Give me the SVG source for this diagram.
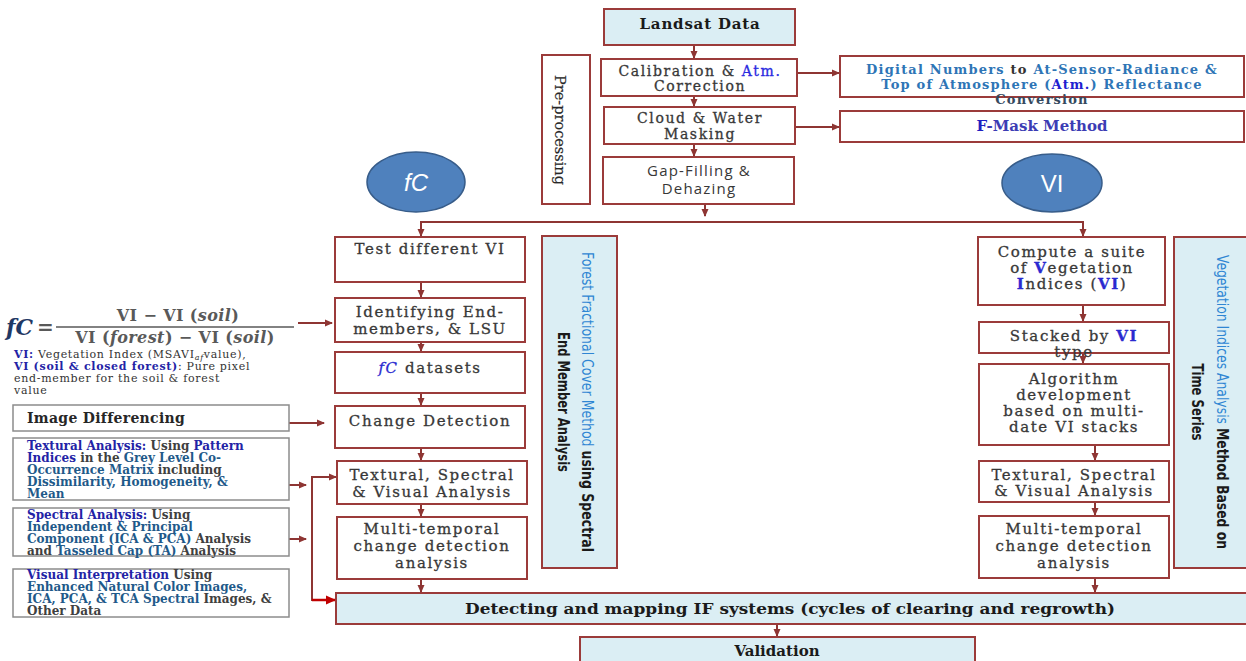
<svg xmlns="http://www.w3.org/2000/svg" width="1246" height="661" viewBox="0 0 1246 661">
<defs>
<style>
.box{fill:#fff;stroke:#9b3b3a;stroke-width:2}
.bbox{fill:#dbeef4;stroke:#9b3b3a;stroke-width:2}
.gbox{fill:#fff;stroke:#8c8c8c;stroke-width:1.5}
.conn{stroke:#8e3533;stroke-width:2;fill:none}
.t{font-family:"DejaVu Serif",serif;font-size:15px;fill:#383838;stroke:#383838;stroke-width:0.3px;letter-spacing:1.6px;text-anchor:middle}
.tt{font-size:14px;letter-spacing:1.6px}
.s{font-family:"DejaVu Serif",serif;font-size:12px;font-weight:bold;fill:#404040}
.n{font-family:"DejaVu Serif",serif;font-size:11px;fill:#333;letter-spacing:0.7px}
.bl{fill:#2323a6;font-weight:bold}
.tl{fill:#1f5a8a}
.vb{fill:#2f86d3}
.vk{fill:#1a1a1a;font-weight:bold}
.side{font-family:"Liberation Sans Narrow","DejaVu Sans Condensed",sans-serif;font-size:16px;text-anchor:middle}
.circ{fill:#4f81bd;stroke:#385d8a;stroke-width:1.5}
.ct{font-family:"Liberation Sans",sans-serif;font-size:24px;fill:#fff;text-anchor:middle}
.dn{font-family:"DejaVu Serif",serif;font-size:13px;font-weight:bold;letter-spacing:1.2px;text-anchor:middle;fill:#2e75b6}
</style>
<marker id="ah" markerWidth="8" markerHeight="8" refX="7" refY="4" orient="auto" markerUnits="userSpaceOnUse">
<path d="M0,0.5 L8,4 L0,7.5 z" fill="#8e3533"/>
</marker>
<marker id="ahr" markerWidth="10" markerHeight="10" refX="9" refY="5" orient="auto" markerUnits="userSpaceOnUse">
<path d="M0,0.5 L10,5 L0,9.5 z" fill="#c00000"/>
</marker>
</defs>

<g id="connectors">
<line class="conn" x1="694" y1="45" x2="694" y2="58" marker-end="url(#ah)"/>
<line class="conn" x1="694" y1="96" x2="694" y2="106" marker-end="url(#ah)"/>
<line class="conn" x1="694" y1="144" x2="694" y2="156" marker-end="url(#ah)"/>
<line class="conn" x1="705" y1="204" x2="705" y2="216" marker-end="url(#ah)"/>
<polyline class="conn" points="421,236 421,222 1083,222 1083,236"/>
<line class="conn" x1="421" y1="224" x2="421" y2="236" marker-end="url(#ah)"/>
<line class="conn" x1="1083" y1="224" x2="1083" y2="236" marker-end="url(#ah)"/>
<line class="conn" x1="797" y1="73" x2="839" y2="73" marker-end="url(#ah)"/>
<line class="conn" x1="795" y1="127" x2="839" y2="127" marker-end="url(#ah)"/>
<line class="conn" x1="421" y1="282" x2="421" y2="297" marker-end="url(#ah)"/>
<line class="conn" x1="421" y1="342" x2="421" y2="351" marker-end="url(#ah)"/>
<line class="conn" x1="421" y1="393" x2="421" y2="405" marker-end="url(#ah)"/>
<line class="conn" x1="421" y1="448" x2="421" y2="460" marker-end="url(#ah)"/>
<line class="conn" x1="421" y1="504" x2="421" y2="516" marker-end="url(#ah)"/>
<line class="conn" x1="421" y1="579" x2="421" y2="592" marker-end="url(#ah)"/>
<line class="conn" x1="1083" y1="305" x2="1083" y2="321" marker-end="url(#ah)"/>
<line class="conn" x1="1083" y1="353" x2="1083" y2="363" marker-end="url(#ah)"/>
<line class="conn" x1="1095" y1="445" x2="1095" y2="460" marker-end="url(#ah)"/>
<line class="conn" x1="1095" y1="502" x2="1095" y2="515" marker-end="url(#ah)"/>
<line class="conn" x1="1095" y1="578" x2="1095" y2="592" marker-end="url(#ah)"/>
<line class="conn" x1="777" y1="624" x2="777" y2="636" marker-end="url(#ah)"/>
<line class="conn" x1="298" y1="323" x2="332" y2="323" marker-end="url(#ah)"/>
<line class="conn" x1="289" y1="423" x2="324" y2="423" marker-end="url(#ah)"/>
<line class="conn" x1="289" y1="485" x2="306" y2="485" marker-end="url(#ah)"/>
<line class="conn" x1="289" y1="539" x2="306" y2="539" marker-end="url(#ah)"/>
<polyline class="conn" points="336,477 312,477 312,600 320,600"/>
<line class="conn" x1="312" y1="477" x2="336" y2="477" marker-end="url(#ah)"/>
<line x1="312" y1="600" x2="335" y2="600" stroke="#c00000" stroke-width="2.5" marker-end="url(#ahr)"/>
</g>

<g id="landsat"><rect class="bbox" x="604" y="9" width="191" height="36"/>
<text class="t" x="700" y="29" style="font-weight:bold;fill:#1a1a1a;stroke:none;letter-spacing:0.8px;font-size:15px">Landsat Data</text></g>

<g id="preprocessing"><rect class="box" x="542" y="55" width="48" height="149"/>
<text class="t" transform="translate(560,130) rotate(90)" x="0" y="5" style="letter-spacing:0;font-size:14.5px;fill:#262626;stroke-width:0.2px">Pre-processing</text></g>

<g id="calibration"><rect class="box" x="601" y="59" width="196" height="37"/>
<text class="t tt" x="700" y="76">Calibration &amp; <tspan fill="#2a2ae0" stroke="#2a2ae0">Atm.</tspan></text>
<text class="t tt" x="700" y="91">Correction</text></g>

<g id="cloud"><rect class="box" x="604" y="107" width="191" height="37"/>
<text class="t tt" x="700" y="123">Cloud &amp; Water</text>
<text class="t tt" x="700" y="139">Masking</text></g>

<g id="gapfilling"><rect class="box" x="603" y="157" width="191" height="47"/>
<text class="t" x="699" y="176" style="font-family:'Open Sans',sans-serif;font-size:15px;letter-spacing:1.2px;stroke:none">Gap-Filling &amp;</text>
<text class="t" x="699" y="194" style="font-family:'Open Sans',sans-serif;font-size:15px;letter-spacing:1.2px;stroke:none">Dehazing</text></g>

<g id="digital"><rect class="box" x="840" y="56" width="404" height="41"/>
<text class="dn" x="1042" y="74">Digital Numbers <tspan fill="#333">to</tspan> At-Sensor-Radiance &amp;</text>
<text class="dn" x="1042" y="89">Top of Atmosphere (<tspan fill="#2020d0">Atm.</tspan>) Reflectance</text>
<text class="dn" x="1042" y="104" style="fill:#34495e">Conversion</text></g>

<g id="fmask"><rect class="box" x="840" y="111" width="404" height="31"/>
<text x="1042" y="131" style="font-family:'DejaVu Serif',serif;font-size:15px;font-weight:bold;text-anchor:middle;fill:#3c3cb4"><tspan fill="#2020c0">F</tspan>-Mask Method</text></g>

<g id="fc-circle"><ellipse class="circ" cx="416" cy="182" rx="49" ry="30"/>
<text class="ct" x="416" y="191" style="font-style:italic">fC</text></g>

<g id="vi-circle"><ellipse class="circ" cx="1052" cy="183" rx="50" ry="29"/>
<text class="ct" x="1052" y="192">VI</text></g>

<g id="test"><rect class="box" x="335" y="237" width="190" height="45"/>
<text class="t" x="430" y="254">Test different VI</text></g>

<g id="identifying"><rect class="box" x="335" y="298" width="190" height="44"/>
<text class="t" x="430" y="317">Identifying End-</text>
<text class="t" x="430" y="334">members, &amp; LSU</text></g>

<g id="fcdatasets"><rect class="box" x="335" y="352" width="190" height="41"/>
<text class="t" x="430" y="373"><tspan fill="#2a2ad0" stroke="#2a2ad0" font-style="italic">fC</tspan> datasets</text></g>

<g id="change"><rect class="box" x="335" y="406" width="190" height="42"/>
<text class="t" x="430" y="426">Change Detection</text></g>

<g id="textural-c"><rect class="box" x="337" y="461" width="190" height="43"/>
<text class="t" x="432" y="480">Textural, Spectral</text>
<text class="t" x="432" y="497">&amp; Visual Analysis</text></g>

<g id="multi-c"><rect class="box" x="337" y="517" width="190" height="62"/>
<text class="t" x="432" y="534">Multi-temporal</text>
<text class="t" x="432" y="551">change detection</text>
<text class="t" x="432" y="568">analysis</text></g>

<g id="forest-method"><rect class="bbox" x="542" y="236" width="75" height="332"/>
<g transform="translate(579,402) rotate(90)">
<text class="side" x="0" y="-3" textLength="300" lengthAdjust="spacingAndGlyphs"><tspan class="vb">Forest Fractional Cover Method</tspan> <tspan class="vk">using Spectral</tspan></text>
<text class="side vk" x="0" y="21" textLength="140" lengthAdjust="spacingAndGlyphs">End Member Analysis</text>
</g></g>

<g id="compute"><rect class="box" x="978" y="237" width="187" height="68"/>
<text class="t" x="1072" y="257">Compute a suite</text>
<text class="t" x="1072" y="273">of <tspan fill="#2a2ad0" stroke="#2a2ad0" font-weight="bold">V</tspan>egetation</text>
<text class="t" x="1072" y="289"><tspan fill="#2a2ad0" stroke="#2a2ad0" font-weight="bold">I</tspan>ndices (<tspan fill="#2a2ad0" stroke="#2a2ad0" font-weight="bold">VI</tspan>)</text></g>

<g id="stacked"><rect class="box" x="979" y="322" width="190" height="31"/>
<text class="t" x="1074" y="341">Stacked by <tspan fill="#2a2ad0" stroke="#2a2ad0" font-weight="bold">VI</tspan></text>
<text class="t" x="1074" y="357">type</text></g>

<g id="algorithm"><rect class="box" x="979" y="364" width="190" height="81"/>
<text class="t" x="1074" y="384">Algorithm</text>
<text class="t" x="1074" y="400">development</text>
<text class="t" x="1074" y="416">based on multi-</text>
<text class="t" x="1074" y="432">date VI stacks</text></g>

<g id="textural-r"><rect class="box" x="979" y="461" width="190" height="41"/>
<text class="t" x="1074" y="480">Textural, Spectral</text>
<text class="t" x="1074" y="496">&amp; Visual Analysis</text></g>

<g id="multi-r"><rect class="box" x="979" y="516" width="190" height="62"/>
<text class="t" x="1074" y="534">Multi-temporal</text>
<text class="t" x="1074" y="551">change detection</text>
<text class="t" x="1074" y="568">analysis</text></g>

<g id="vi-method"><rect class="bbox" x="1174" y="237" width="80" height="331"/>
<g transform="translate(1210,402) rotate(90)">
<text class="side" x="0" y="-7" textLength="294" lengthAdjust="spacingAndGlyphs"><tspan class="vb">Vegetation Indices Analysis</tspan> <tspan class="vk">Method Based on</tspan></text>
<text class="side vk" x="0" y="18" textLength="77" lengthAdjust="spacingAndGlyphs">Time Series</text>
</g></g>

<g id="formula">
<text x="6" y="335" style="font-family:'DejaVu Serif',serif;font-size:22px;font-weight:bold;font-style:italic;fill:#1f3864">fC</text>
<text x="37" y="334" style="font-family:'DejaVu Serif',serif;font-size:20px;font-weight:bold;fill:#595959">=</text>
<text x="178" y="321" style="font-family:'DejaVu Serif',serif;font-size:16px;font-weight:bold;fill:#595959;text-anchor:middle;letter-spacing:0.4px">VI − VI (<tspan font-style="italic">soil</tspan>)</text>
<line x1="56" y1="327" x2="294" y2="327" stroke="#595959" stroke-width="1.5"/>
<text x="175" y="343" style="font-family:'DejaVu Serif',serif;font-size:16px;font-weight:bold;fill:#595959;text-anchor:middle;letter-spacing:0.4px">VI (<tspan font-style="italic">forest</tspan>) − VI (<tspan font-style="italic">soil</tspan>)</text>
<text class="n" x="14" y="358"><tspan class="bl">VI:</tspan>  Vegetation Index (MSAVI<tspan font-size="8" font-style="italic" dy="2">af</tspan><tspan dy="-2">value),</tspan></text>
<text class="n" x="14" y="370"><tspan class="bl">VI (soil &amp; closed forest)</tspan>: Pure pixel</text>
<text class="n" x="14" y="382">end-member for the soil &amp; forest</text>
<text class="n" x="14" y="394">value</text>
</g>

<g id="image-differencing"><rect class="gbox" x="13" y="405" width="276" height="26"/>
<text x="27" y="423" style="font-family:'DejaVu Serif',serif;font-size:14px;font-weight:bold;fill:#262626;letter-spacing:0.3px">Image Differencing</text></g>

<g id="textural-analysis"><rect class="gbox" x="13" y="438" width="276" height="62"/>
<text class="s" x="27" y="450"><tspan class="bl">Textural Analysis:</tspan> Using <tspan class="bl">Pattern</tspan></text>
<text class="s" x="27" y="462"><tspan class="bl">Indices</tspan> in the <tspan class="tl">Grey Level Co-</tspan></text>
<text class="s" x="27" y="474"><tspan class="tl">Occurrence Matrix</tspan> including</text>
<text class="s" x="27" y="486"><tspan class="tl">Dissimilarity, Homogeneity, &amp;</tspan></text>
<text class="s" x="27" y="498"><tspan class="tl">Mean</tspan></text></g>

<g id="spectral-analysis"><rect class="gbox" x="13" y="508" width="276" height="48"/>
<text class="s" x="27" y="519"><tspan class="bl">Spectral Analysis:</tspan> Using</text>
<text class="s" x="27" y="531"><tspan class="tl">Independent &amp; Principal</tspan></text>
<text class="s" x="27" y="543"><tspan class="tl">Component (ICA &amp; PCA)</tspan> Analysis</text>
<text class="s" x="27" y="555">and <tspan class="tl">Tasseled Cap (TA)</tspan> Analysis</text></g>

<g id="visual-interpretation"><rect class="gbox" x="13" y="569" width="276" height="48"/>
<text class="s" x="27" y="579"><tspan class="bl">Visual Interpretation</tspan>  Using</text>
<text class="s" x="27" y="591"><tspan class="tl">Enhanced Natural Color Images,</tspan></text>
<text class="s" x="27" y="603"><tspan class="tl">ICA, PCA, &amp; TCA Spectral</tspan> Images, &amp;</text>
<text class="s" x="27" y="615">Other Data</text></g>

<g id="detecting"><rect class="bbox" x="336" y="593" width="915" height="31"/>
<text x="790" y="614" textLength="650" lengthAdjust="spacingAndGlyphs" style="font-family:'DejaVu Serif',serif;font-size:15px;font-weight:bold;fill:#1a1a1a;text-anchor:middle">Detecting and mapping IF systems (cycles of clearing and regrowth)</text></g>

<g id="validation"><rect class="bbox" x="580" y="637" width="395" height="30"/>
<text x="777" y="656" style="font-family:'DejaVu Serif',serif;font-size:15px;font-weight:bold;fill:#1a1a1a;text-anchor:middle">Validation</text></g>
</svg>
